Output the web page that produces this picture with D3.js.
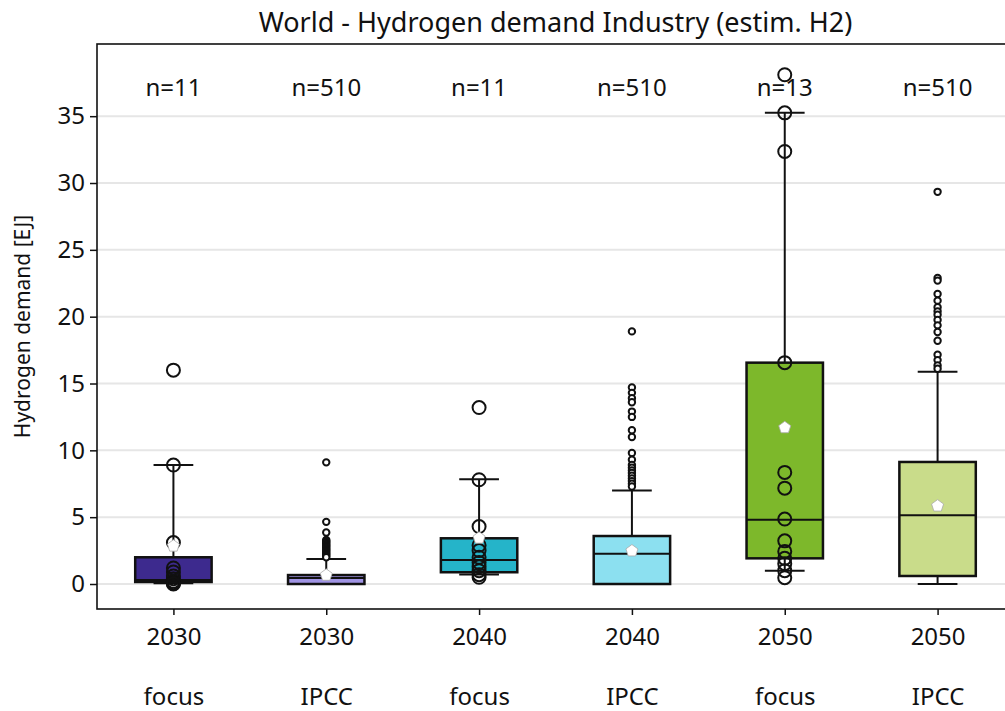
<!DOCTYPE html>
<html><head><meta charset="utf-8">
<script src="https://cdn.jsdelivr.net/npm/d3@7"></script>
<style>
html,body{margin:0;padding:0;background:#fff;}
svg text{font-family:"Noto Sans","Open Sans",sans-serif;fill:#111;}
</style></head>
<body><svg id="chart" width="1005" height="711"></svg>
<script>
const title = "World - Hydrogen demand Industry (estim. H2)";
const yLabel = "Hydrogen demand [EJ]";
const years = ["2030","2030","2040","2040","2050","2050"];
const groups = ["focus","IPCC","focus","IPCC","focus","IPCC"];
const counts = [11,510,11,510,13,510];
const colors = ["#3d2a8e","#a094e4","#25b4c9","#8ce0f0","#7db82b","#c9dc8a"];
const q1 = [0.15, 0.0, 0.88, 0.0, 1.92, 0.6];
const medians = [0.3, 0.45, 1.8, 2.27, 4.8, 5.14];
const q3 = [2.0, 0.67, 3.42, 3.59, 16.56, 9.13];
const whiskerLow = [0.05, 0.0, 0.72, 0.0, 1.0, 0.0];
const whiskerHigh = [8.9, 1.87, 7.83, 7.0, 35.25, 15.88];
const means = [2.9, 0.72, 3.5, 2.54, 11.76, 5.9];
const outliers = [
  [],
  [9.1,4.65,3.85,3.3,3.2,3.1,3.0,2.9,2.8,2.7,2.6,2.5,2.4,2.3,2.2,2.1,2.0],
  [],
  [18.9,14.7,14.3,13.9,13.6,12.9,12.5,11.5,11.0,9.8,9.3,8.9,8.7,8.5,8.3,8.1,7.9,7.7,7.5,7.3],
  [],
  [29.34,22.9,22.7,21.7,21.2,20.7,20.4,20.15,19.75,19.35,18.85,18.2,17.15,16.75,16.35,16.1]
];
const focusPoints = [
  [16.0,8.9,3.1,1.2,0.9,0.6,0.4,0.2,0.1,0.05,0.0],
  [],
  [13.2,7.8,4.3,2.9,2.5,2.0,1.6,1.3,1.0,0.7,0.5],
  [],
  [38.1,35.25,32.36,16.56,8.35,7.17,4.86,3.23,2.44,1.92,1.52,1.0,0.47],
  []
];
const yTicks = [0,5,10,15,20,25,30,35];

const svg = d3.select("#chart");
const m = {left:97, right:1014, top:44, bottom:609};
const idx = d3.range(years.length);
const x = d3.scaleLinear().domain([-0.5, years.length-0.5]).range([m.left, m.right]);
const y = d3.scaleLinear().domain([-1.87, 40.4]).range([m.bottom, m.top]);
const step = x(1)-x(0);
const bw = step*0.5, cw = bw*0.52;

const pentagon = {
  draw(ctx, size) {
    const r = Math.sqrt(size / 2.3776);
    for (let k = 0; k < 5; k++) {
      const a = -Math.PI/2 + k*2*Math.PI/5;
      const px = r*Math.cos(a), py = r*Math.sin(a);
      if (k === 0) ctx.moveTo(px, py); else ctx.lineTo(px, py);
    }
    ctx.closePath();
  }
};

// grid
svg.append("g").selectAll("line").data(yTicks).join("line")
  .attr("x1", m.left).attr("x2", m.right)
  .attr("y1", d=>y(d)).attr("y2", d=>y(d))
  .attr("stroke","#e6e6e6").attr("stroke-width",2);

// y axis
const yAxis = svg.append("g").attr("transform",`translate(${m.left},0)`)
  .call(d3.axisLeft(y).tickValues(yTicks).tickSize(7).tickPadding(5));
yAxis.select(".domain").remove();
yAxis.selectAll(".tick line").attr("stroke","#111").attr("stroke-width",1.5);
yAxis.selectAll(".tick text").style("font-size","24px");

// x axis
const xAxis = svg.append("g").attr("transform",`translate(0,${m.bottom})`)
  .call(d3.axisBottom(x).tickValues(idx).tickSize(6).tickPadding(13).tickFormat(i=>years[i]));
xAxis.select(".domain").remove();
xAxis.selectAll(".tick line").attr("stroke","#111").attr("stroke-width",1.5);
xAxis.selectAll(".tick text").style("font-size","24px");
xAxis.selectAll(".tick").append("text").attr("y",96)
  .attr("text-anchor","middle").style("font-size","24px").text(i=>groups[i]);

// boxes
const g = svg.append("g");
idx.forEach(i=>{
  const cx = x(i);
  const gg = g.append("g");
  gg.append("line").attr("x1",cx).attr("x2",cx).attr("y1",y(q3[i])).attr("y2",y(whiskerHigh[i]))
    .attr("stroke","#111").attr("stroke-width",2);
  gg.append("line").attr("x1",cx).attr("x2",cx).attr("y1",y(q1[i])).attr("y2",y(whiskerLow[i]))
    .attr("stroke","#111").attr("stroke-width",2);
  [whiskerHigh[i], whiskerLow[i]].forEach(v=>{
    gg.append("line").attr("x1",cx-cw/2).attr("x2",cx+cw/2).attr("y1",y(v)).attr("y2",y(v))
      .attr("stroke","#111").attr("stroke-width",2);
  });
  gg.append("rect").attr("x",cx-bw/2).attr("width",bw)
    .attr("y",y(q3[i])).attr("height",Math.max(0,y(q1[i])-y(q3[i])))
    .attr("fill",colors[i]).attr("stroke","#111").attr("stroke-width",2.5);
  gg.append("line").attr("x1",cx-bw/2).attr("x2",cx+bw/2).attr("y1",y(medians[i])).attr("y2",y(medians[i]))
    .attr("stroke","#111").attr("stroke-width",2);
  gg.selectAll("circle.out").data(outliers[i]).join("circle").attr("class","out")
    .attr("cx",cx).attr("cy",d=>y(d)).attr("r",3.2)
    .attr("fill","#fff").attr("stroke","#111").attr("stroke-width",2);
  gg.selectAll("circle.pt").data(focusPoints[i]).join("circle").attr("class","pt")
    .attr("cx",cx).attr("cy",d=>y(d)).attr("r",6.5)
    .attr("fill","none").attr("stroke","#111").attr("stroke-width",2);
  gg.append("path").attr("d", d3.symbol().type(pentagon).size(95)())
    .attr("transform",`translate(${cx},${y(means[i])+0.8})`)
    .attr("fill","#fff").attr("stroke","#aaa").attr("stroke-width",0.8);
  svg.append("text").attr("x",cx).attr("y",m.top+52).attr("text-anchor","middle")
    .style("font-size","24px").text("n=" + counts[i]);
});

// frame
svg.append("rect").attr("x",m.left).attr("y",m.top).attr("width",m.right-m.left).attr("height",m.bottom-m.top)
  .attr("fill","none").attr("stroke","#111").attr("stroke-width",1.6);

svg.append("text").attr("x",(m.left+m.right)/2).attr("y",32).attr("text-anchor","middle")
  .style("font-size","27px").text(title);
svg.append("text").attr("transform",`translate(30,${(m.top+m.bottom)/2}) rotate(-90)`)
  .attr("text-anchor","middle").style("font-size","21px").text(yLabel);
</script></body></html>
